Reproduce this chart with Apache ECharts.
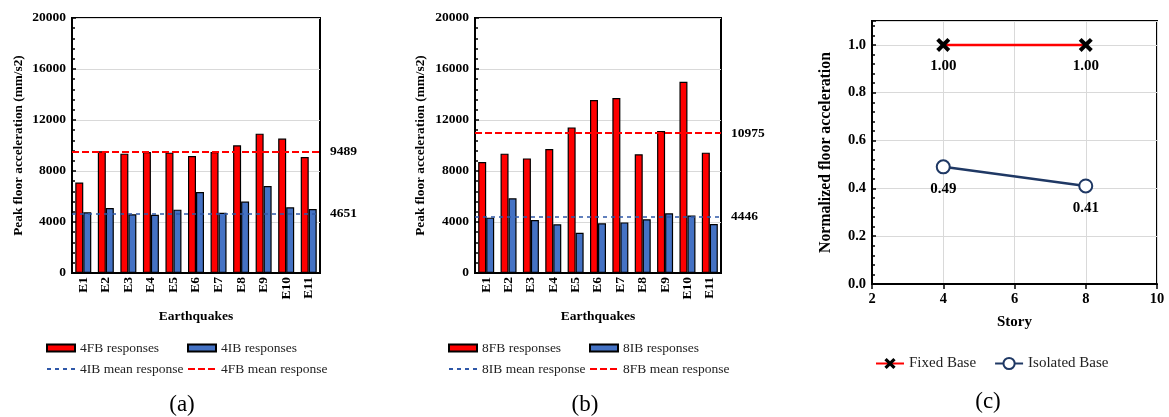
<!DOCTYPE html>
<html>
<head>
<meta charset="utf-8">
<script src="https://cdn.jsdelivr.net/npm/echarts@6/dist/echarts.min.js"></script>
<style>
html,body{margin:0;padding:0;background:#fff;}
#chart{width:1169px;height:417px;}
</style>
</head>
<body>
<div id="chart"></div>
<script>
// ---------- data ----------
const categories = ['E1','E2','E3','E4','E5','E6','E7','E8','E9','E10','E11'];
const fb4 = [7100, 9550, 9360, 9490, 9440, 9180, 9490, 10010, 10930, 10540, 9100];
const ib4 = [4760, 5100, 4600, 4560, 4970, 6350, 4730, 5600, 6820, 5150, 5020];
const mean4FB = 9489;
const mean4IB = 4651;
const fb8 = [8710, 9360, 8990, 9730, 11420, 13570, 13730, 9310, 11140, 15000, 9440];
const ib8 = [4340, 5860, 4160, 3820, 3160, 3900, 3970, 4210, 4680, 4500, 3840];
const mean8FB = 10975;
const mean8IB = 4446;
const stories = [4, 8];
const fixedBase = [1.00, 1.00];
const isolatedBase = [0.49, 0.41];
const captions = ['(a)', '(b)', '(c)'];

// ---------- style ----------
const FONT = 'Liberation Serif';
const RED = '#ff0000';
const BLUE = '#4472c4';
const DASHBLUE = '#2f58a8';
const NAVY = '#1f3864';
const GRIDC = '#d9d9d9';

const chart = echarts.init(document.getElementById('chart'), null, {renderer: 'canvas'});

function boldText(size) {
  return {fontFamily: FONT, fontWeight: 'bold', fontSize: size, color: '#000'};
}

function catAxis(gi) {
  return {
    gridIndex: gi, type: 'category', data: categories,
    axisLine: {lineStyle: {color: '#000', width: 2}},
    axisTick: {length: 5, lineStyle: {color: '#000', width: 1.5}},
    axisLabel: Object.assign({rotate: 90, margin: 4}, boldText(13.5)),
    name: 'Earthquakes', nameLocation: 'middle', nameGap: 37,
    nameTextStyle: boldText(13.5)
  };
}
function accAxis(gi, gap) {
  return {
    gridIndex: gi, type: 'value', min: 0, max: 20000, interval: 4000,
    axisLine: {show: true, lineStyle: {color: '#000', width: 2}},
    axisTick: {show: true, inside: true, length: 4, lineStyle: {color: '#000', width: 1.5}},
    minorTick: {show: true, splitNumber: 5, length: 3, lineStyle: {color: '#000', width: 1.5}},
    splitLine: {show: true, lineStyle: {color: GRIDC, width: 1}},
    axisLabel: Object.assign({margin: 6, formatter: v => String(v)}, boldText(13.5)),
    name: 'Peak floor acceleration (mm/s2)', nameLocation: 'middle', nameGap: gap,
    nameTextStyle: boldText(13.3)
  };
}
function barSeries(name, gi, data, color) {
  return {
    name: name, type: 'bar', xAxisIndex: gi, yAxisIndex: gi, data: data,
    barWidth: 8, barGap: '0%',
    itemStyle: {color: color, borderColor: '#000', borderWidth: 1.2},
    animation: false
  };
}
function meanSeries(name, gi, value, color, dash, width) {
  return {
    name: name, type: 'line', xAxisIndex: gi, yAxisIndex: gi, data: [],
    symbol: 'none', color: color,
    lineStyle: {color: color, type: dash, width: width},
    animation: false,
    markLine: {
      symbol: 'none', silent: true, animation: false,
      lineStyle: {color: color, type: dash, width: width},
      data: [{yAxis: value}],
      label: Object.assign({show: true, position: 'end', distance: 10,
        formatter: p => String(p.value)}, boldText(13.5))
    }
  };
}
function barLegend(left, barName, meanName) {
  return {
    left: left, top: 341, orient: 'vertical', itemGap: 7, padding: 0,
    itemWidth: 28, itemHeight: 7,
    data: [
      {name: barName, icon: 'rect'},
      {name: meanName, itemStyle: {opacity: 0}}
    ],
    textStyle: {fontFamily: FONT, fontSize: 13.5, color: '#222'}
  };
}

const crossPath = 'path://M2,0 L5,3 L8,0 L10,2 L7,5 L10,8 L8,10 L5,7 L2,10 L0,8 L3,5 L0,2 Z';

const option = {
  backgroundColor: '#fff',
  animation: false,
  grid: [
    {left: 72, top: 18, width: 248, height: 255, show: true, borderColor: '#000', borderWidth: 2, backgroundColor: 'transparent'},
    {left: 475, top: 18, width: 246, height: 255, show: true, borderColor: '#000', borderWidth: 2, backgroundColor: 'transparent'},
    {left: 872, top: 21, width: 285, height: 263, show: true, borderColor: '#000', borderWidth: 2, backgroundColor: 'transparent'}
  ],
  xAxis: [
    catAxis(0),
    catAxis(1),
    {
      gridIndex: 2, type: 'value', min: 2, max: 10, interval: 2,
      axisLine: {lineStyle: {color: '#000', width: 2}},
      axisTick: {length: 5, lineStyle: {color: '#000', width: 1.5}},
      splitLine: {show: true, lineStyle: {color: GRIDC, width: 1}},
      axisLabel: Object.assign({margin: 8}, boldText(14.5)),
      name: 'Story', nameLocation: 'middle', nameGap: 31,
      nameTextStyle: boldText(15)
    }
  ],
  yAxis: [
    accAxis(0, 47),
    accAxis(1, 48),
    {
      gridIndex: 2, type: 'value', min: 0, max: 1.1, interval: 0.2,
      axisLine: {show: true, lineStyle: {color: '#000', width: 2}},
      axisTick: {show: true, inside: true, length: 4, lineStyle: {color: '#000', width: 1.5}},
      minorTick: {show: true, splitNumber: 5, length: 3, lineStyle: {color: '#000', width: 1.5}},
      splitLine: {show: true, lineStyle: {color: GRIDC, width: 1}},
      axisLabel: Object.assign({margin: 6, showMaxLabel: false, formatter: v => v.toFixed(1)}, boldText(14.5)),
      name: 'Normalized floor acceleration', nameLocation: 'middle', nameGap: 38,
      nameTextStyle: boldText(15.8)
    }
  ],
  legend: [
    barLegend(46, '4FB responses', '4IB mean response'),
    barLegend(187, '4IB responses', '4FB mean response'),
    barLegend(448, '8FB responses', '8IB mean response'),
    barLegend(589, '8IB responses', '8FB mean response'),
    {
      left: 875, top: 356, orient: 'horizontal', itemGap: 18, padding: 0,
      itemWidth: 28, itemHeight: 14,
      data: ['Fixed Base', 'Isolated Base'],
      textStyle: {fontFamily: FONT, fontSize: 15, color: '#222'}
    }
  ],
  series: [
    barSeries('4FB responses', 0, fb4, RED),
    barSeries('4IB responses', 0, ib4, BLUE),
    meanSeries('4IB mean response', 0, mean4IB, DASHBLUE, [4, 4], 1.5),
    meanSeries('4FB mean response', 0, mean4FB, RED, [7, 3], 2),
    barSeries('8FB responses', 1, fb8, RED),
    barSeries('8IB responses', 1, ib8, BLUE),
    meanSeries('8IB mean response', 1, mean8IB, DASHBLUE, [4, 4], 1.5),
    meanSeries('8FB mean response', 1, mean8FB, RED, [7, 3], 2),
    {
      name: 'Fixed Base', type: 'line', xAxisIndex: 2, yAxisIndex: 2,
      data: stories.map((s, i) => [s, fixedBase[i]]),
      symbol: crossPath, symbolSize: 14,
      itemStyle: {color: '#000'},
      lineStyle: {color: RED, width: 2.5},
      label: Object.assign({show: true, position: 'bottom', distance: 7,
        formatter: p => p.value[1].toFixed(2)}, boldText(15)),
      z: 3
    },
    {
      name: 'Isolated Base', type: 'line', xAxisIndex: 2, yAxisIndex: 2,
      data: stories.map((s, i) => [s, isolatedBase[i]]),
      symbol: 'emptyCircle', symbolSize: 13,
      itemStyle: {color: NAVY, borderWidth: 3},
      lineStyle: {color: NAVY, width: 2.5},
      label: Object.assign({show: true, position: 'bottom', distance: 7,
        formatter: p => p.value[1].toFixed(2)}, boldText(15)),
      z: 3
    }
  ],
  graphic: [
    {type: 'text', x: 182, y: 405, style: {text: captions[0], fontFamily: FONT, fontSize: 23, fill: '#000', align: 'center', verticalAlign: 'middle'}},
    {type: 'text', x: 585, y: 405, style: {text: captions[1], fontFamily: FONT, fontSize: 23, fill: '#000', align: 'center', verticalAlign: 'middle'}},
    {type: 'text', x: 988, y: 402, style: {text: captions[2], fontFamily: FONT, fontSize: 23, fill: '#000', align: 'center', verticalAlign: 'middle'}}
  ]
};
chart.setOption(option);
</script>
</body>
</html>
